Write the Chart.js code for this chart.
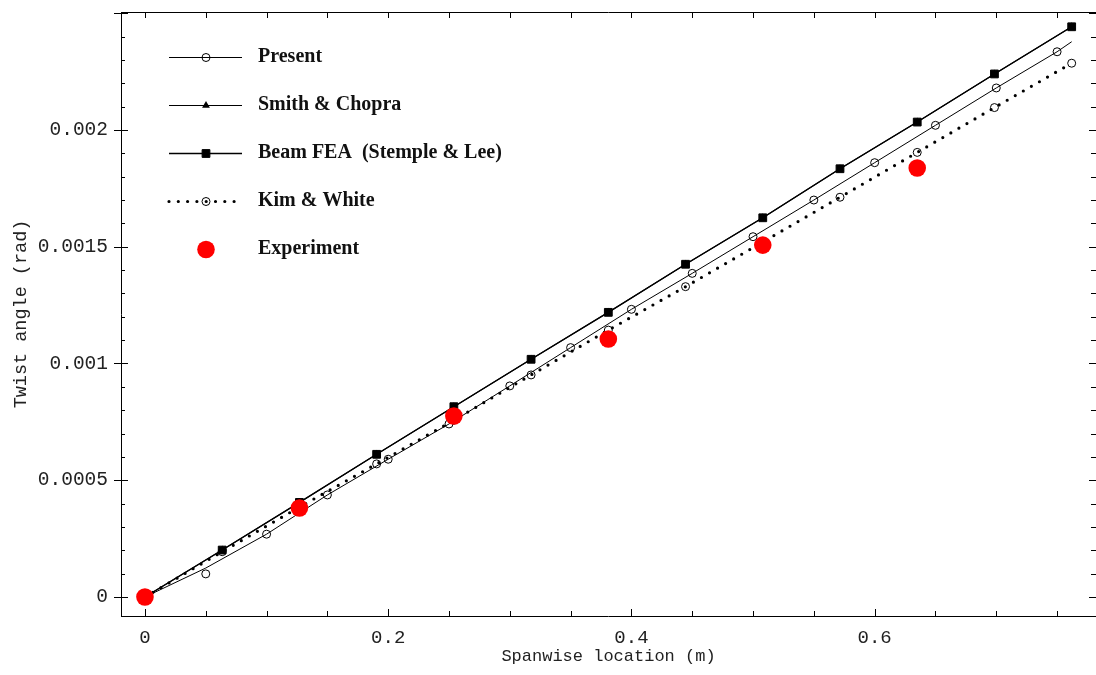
<!DOCTYPE html>
<html>
<head>
<meta charset="utf-8">
<title>Twist angle</title>
<script src="https://cdn.jsdelivr.net/npm/chart.js"></script>
<style>
html, body { margin: 0; padding: 0; background: #fff; }
#wrap { width: 1096px; height: 675px; }
</style>
</head>
<body>
<div id="wrap"><canvas id="twistChart" width="1096" height="675"></canvas></div>
<script>
// spanwise stations (m) and twist angles (rad)
const presentX = [0, 0.05, 0.1, 0.15, 0.2, 0.25, 0.3, 0.35, 0.4, 0.45, 0.5, 0.55, 0.6, 0.65, 0.7, 0.75, 0.762];
const presentMarkY = [0, 0.000099, 0.000269, 0.000437, 0.00059, 0.000741, 0.000904, 0.001068, 0.001232, 0.001386, 0.001543, 0.0017, 0.00186, 0.00202, 0.00218, 0.002335, 0.002378];
const presentCurveY = [0, 0.000124, 0.000269, 0.000437, 0.00059, 0.000741, 0.000904, 0.001068, 0.001232, 0.001386, 0.001543, 0.0017, 0.00186, 0.00202, 0.00218, 0.002335, 0.002378];

const beamX = [0, 0.0635, 0.127, 0.1905, 0.254, 0.3175, 0.381, 0.4445, 0.508, 0.5715, 0.635, 0.6985, 0.762];
const beamY = [0, 0.000201, 0.000405, 0.000611, 0.000815, 0.001018, 0.001219, 0.001425, 0.001624, 0.001834, 0.002034, 0.00224, 0.002442];

const smithX = [0, 0.0635, 0.127, 0.1905, 0.254, 0.3175, 0.381, 0.4445, 0.508, 0.5715, 0.635, 0.6985, 0.762];
const smithY = [0, 0.000201, 0.000405, 0.000611, 0.000815, 0.001018, 0.001219, 0.001425, 0.001624, 0.001834, 0.002034, 0.00224, 0.002442];

const kimX = [0, 0.0635, 0.127, 0.1905, 0.254, 0.3175, 0.381, 0.4445, 0.508, 0.5715, 0.635, 0.6985, 0.762];
const kimY = [0, 0.000194, 0.000385, 0.00057, 0.000757, 0.000951, 0.001143, 0.001329, 0.00152, 0.001712, 0.001904, 0.002096, 0.002286];

const expX = [0, 0.127, 0.254, 0.381, 0.508, 0.635];
const expY = [0, 0.000381, 0.000775, 0.001105, 0.001507, 0.001837];

const xTicks = [0, 0.2, 0.4, 0.6];
const xTickLabels = ['0', '0.2', '0.4', '0.6'];
const yTicks = [0, 0.0005, 0.001, 0.0015, 0.002];
const yTickLabels = ['0', '0.0005', '0.001', '0.0015', '0.002'];

function pts(xs, ys) {
    return xs.map((x, i) => ({ x: x, y: ys[i] }));
}

function drawMark(ctx, style, r, x, y, fill, stroke, bw) {
    ctx.beginPath();
    if (style === 'rect') {
        const h = r * Math.SQRT1_2;
        ctx.rect(x - h, y - h, 2 * h, 2 * h);
    } else if (style === 'triangle') {
        ctx.moveTo(x, y - r);
        ctx.lineTo(x + r * 0.866, y + r * 0.5);
        ctx.lineTo(x - r * 0.866, y + r * 0.5);
        ctx.closePath();
    } else {
        ctx.arc(x, y, r, 0, Math.PI * 2);
    }
    if (fill && fill !== 'transparent') { ctx.fillStyle = fill; ctx.fill(); }
    if (bw > 0) { ctx.lineWidth = bw; ctx.strokeStyle = stroke; ctx.stroke(); }
}

// box + inward tick marks on all four sides
const frameTicks = {
    id: 'frameTicks',
    beforeDatasetsDraw(chart) {
        const { ctx, chartArea: a, scales: { x, y } } = chart;
        ctx.save();
        ctx.strokeStyle = '#000';
        ctx.lineWidth = 1;
        ctx.beginPath();
        ctx.moveTo(a.left, a.top + 0.5); ctx.lineTo(a.right, a.top + 0.5);
        ctx.moveTo(a.left + 0.5, a.top); ctx.lineTo(a.left + 0.5, a.bottom + 1);
        ctx.moveTo(a.left, a.bottom + 0.5); ctx.lineTo(a.right, a.bottom + 0.5);
        for (let i = 0; i * 0.05 <= x.max; i++) {
            const px = Math.round(x.getPixelForValue(i * 0.05)) + 0.5;
            const len = i % 4 === 0 ? 7 : 5;
            ctx.moveTo(px, a.bottom); ctx.lineTo(px, a.bottom - len);
            ctx.moveTo(px, a.top); ctx.lineTo(px, a.top + 6);
        }
        for (let i = 0; i * 0.0001 <= y.max; i++) {
            const py = Math.round(y.getPixelForValue(i * 0.0001)) + 0.5;
            if (i % 5 === 0) {
                ctx.moveTo(a.left - 7, py); ctx.lineTo(a.left + 7, py);
                ctx.moveTo(a.right, py); ctx.lineTo(a.right - 7, py);
            } else {
                ctx.moveTo(a.left, py); ctx.lineTo(a.left + 4, py);
                ctx.moveTo(a.right, py); ctx.lineTo(a.right - 5, py);
            }
        }
        ctx.stroke();
        ctx.restore();
    }
};

// legend: short line sample with the marker in its middle, bold serif label
const keyLegend = {
    id: 'keyLegend',
    afterDraw(chart) {
        const ctx = chart.ctx;
        const groups = [];
        chart.data.datasets.forEach(ds => {
            let g = groups.find(g => g.label === ds.label);
            if (!g) { g = { label: ds.label, sets: [] }; groups.push(g); }
            g.sets.push(ds);
        });
        ctx.save();
        groups.forEach((g, i) => {
            const yy = 57 + i * 48;
            const lineSet = g.sets.find(d => d.showLine !== false);
            const markSet = g.sets.find(d => d.pointRadius > 0);
            if (lineSet) {
                ctx.beginPath();
                ctx.setLineDash(lineSet.borderDash || []);
                ctx.lineCap = lineSet.borderCapStyle || 'butt';
                ctx.lineWidth = lineSet.borderWidth;
                ctx.strokeStyle = lineSet.borderColor;
                ctx.moveTo(169, yy + 0.5); ctx.lineTo(242, yy + 0.5);
                ctx.stroke();
                ctx.setLineDash([]);
                ctx.lineCap = 'butt';
            }
            if (markSet) {
                drawMark(ctx, markSet.pointStyle, markSet.pointRadius, 206, yy + 0.5,
                    markSet.pointBackgroundColor, markSet.pointBorderColor, markSet.pointBorderWidth);
            }
            ctx.fillStyle = '#111';
            ctx.font = 'bold 20px "Liberation Serif", "Times New Roman", serif';
            ctx.textBaseline = 'middle';
            ctx.textAlign = 'left';
            ctx.fillText(g.label, 258, yy);
        });
        ctx.restore();
    }
};

const ctx = document.getElementById('twistChart').getContext('2d');
const chart = new Chart(ctx, {
    type: 'scatter',
    data: {
        datasets: [
            {
                label: 'Present',
                data: pts(presentX, presentCurveY),
                showLine: true,
                borderColor: '#000',
                borderWidth: 1,
                pointRadius: 0,
                order: 3
            },
            {
                label: 'Present',
                data: pts(presentX.slice(1, 16), presentMarkY.slice(1, 16)),
                showLine: false,
                pointStyle: 'circle',
                pointRadius: 4,
                pointBackgroundColor: 'transparent',
                pointBorderColor: '#000',
                pointBorderWidth: 1,
                order: 2
            },
            {
                label: 'Smith & Chopra',
                data: pts(smithX, smithY),
                showLine: true,
                borderColor: '#000',
                borderWidth: 1.2,
                pointStyle: 'triangle',
                pointRadius: 4.5,
                pointBackgroundColor: '#000',
                pointBorderColor: '#000',
                pointBorderWidth: 0,
                order: 5
            },
            {
                label: 'Beam FEA  (Stemple & Lee)',
                data: pts(beamX, beamY),
                showLine: true,
                borderColor: '#000',
                borderWidth: 1.3,
                pointStyle: 'rect',
                pointRadius: 5.5,
                pointBackgroundColor: '#000',
                pointBorderColor: '#000',
                pointBorderWidth: 1,
                order: 1
            },
            {
                label: 'Kim & White',
                data: pts(kimX, kimY),
                showLine: true,
                borderColor: '#000',
                borderWidth: 3.2,
                borderDash: [0, 9.3],
                borderCapStyle: 'round',
                pointStyle: 'circle',
                pointRadius: 4,
                pointBackgroundColor: 'transparent',
                pointBorderColor: '#000',
                pointBorderWidth: 1,
                order: 4
            },
            {
                label: 'Experiment',
                data: pts(expX, expY),
                showLine: false,
                pointStyle: 'circle',
                pointRadius: 8.8,
                pointBackgroundColor: '#ff0000',
                pointBorderColor: '#ff0000',
                pointBorderWidth: 0,
                order: 0
            }
        ]
    },
    options: {
        responsive: false,
        animation: false,
        layout: { autoPadding: false, padding: { top: 12, right: 0, bottom: 0, left: 0 } },
        plugins: {
            legend: { display: false },
            tooltip: { enabled: false }
        },
        scales: {
            x: {
                type: 'linear',
                min: -0.0197,
                max: 0.782,
                afterBuildTicks: s => { s.ticks = xTicks.map(v => ({ value: v })); },
                afterFit: s => { s.height = 59; s.paddingLeft = 0; s.paddingRight = 0; },
                grid: { display: false, drawTicks: false },
                border: { display: false },
                ticks: {
                    autoSkip: false,
                    maxRotation: 0,
                    padding: 11,
                    color: '#222',
                    font: { family: '"Liberation Mono", monospace', size: 19 },
                    callback: (v, i) => xTickLabels[i]
                },
                title: {
                    display: true,
                    text: 'Spanwise location (m)',
                    color: '#222',
                    font: { family: '"Liberation Mono", monospace', size: 17 },
                    padding: { top: 0, bottom: 8 }
                }
            },
            y: {
                type: 'linear',
                min: -0.0000814,
                max: 0.0025053,
                afterBuildTicks: s => { s.ticks = yTicks.map(v => ({ value: v })); },
                afterFit: s => { s.width = 121; s.paddingTop = 0; s.paddingBottom = 0; },
                grid: { display: false, drawTicks: false },
                border: { display: false },
                ticks: {
                    autoSkip: false,
                    padding: 13,
                    color: '#222',
                    font: { family: '"Liberation Mono", monospace', size: 19.5 },
                    callback: (v, i) => yTickLabels[i]
                },
                title: {
                    display: true,
                    text: 'Twist angle (rad)',
                    color: '#222',
                    font: { family: '"Liberation Mono", monospace', size: 18.5 },
                    padding: { top: 10, bottom: 0 }
                }
            }
        }
    },
    plugins: [frameTicks, keyLegend]
});
</script>
</body>
</html>
